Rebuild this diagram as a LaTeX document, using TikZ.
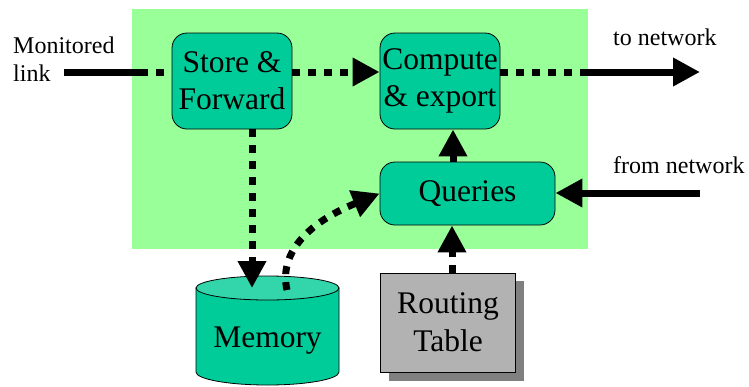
\documentclass[tikz,border=0pt]{standalone}
\usepackage{fontspec}
\setmainfont{Liberation Serif}
\usetikzlibrary{arrows.meta,calc}
\definecolor{bggreen}{RGB}{153,255,153}
\definecolor{boxteal}{RGB}{0,204,153}
\definecolor{topteal}{RGB}{51,214,170}
\definecolor{rtgray}{RGB}{178,178,178}
\definecolor{shgray}{RGB}{128,128,128}
\tikzset{
  procbox/.style={draw=black, line width=0.8pt, fill=boxteal, rounded corners=15pt,
    align=center, inner sep=0pt, font=\fontsize{31.5}{37}\selectfont},
  lbl/.style={inner sep=0pt, font=\fontsize{24}{28}\selectfont, align=left},
  tip/.style={-{Triangle[length=27pt,width=27pt]}},
  solidln/.style={line width=7pt},
  dotln/.style={line width=7pt, dash pattern=on 8pt off 8pt},
}
\begin{document}
\begin{tikzpicture}[x=1pt,y=-1pt]
\useasboundingbox (0,0) rectangle (749,386);
% background
\fill[bggreen] (132,9) rectangle (588,249);
% boxes
\node[procbox, minimum width=120pt, minimum height=96pt] (sf) at (232,81) {Store \&\\Forward};
\node[procbox, minimum width=120pt, minimum height=96pt] (ce) at (440,81) {Compute\\\& export};
\node[procbox, minimum width=175pt, minimum height=63pt] (q) at (467.5,193.5) {Queries};
% memory cylinder
\filldraw[fill=boxteal, draw=black, line width=0.8pt]
  (196,288) -- (196,372) arc[start angle=180, end angle=360, x radius=71.5pt, y radius=13pt]
  -- (339,288) -- cycle;
\filldraw[fill=topteal, draw=black, line width=0.8pt] (267.5,288) ellipse[x radius=71.5pt, y radius=12pt];
\node[inner sep=0pt, anchor=base, font=\fontsize{31.5}{37}\selectfont] (mem) at (267.5,347) {Memory};
\coordinate (memtop) at (252,288);
\coordinate (memout) at (287,290);
% routing table
\fill[shgray] (389,281) rectangle (524,381);
\node[draw=black, line width=0.8pt, fill=rtgray, minimum width=135pt, minimum height=99pt,
  inner sep=0pt, align=center, font=\fontsize{31.5}{38}\selectfont] (rt) at (448,322.5) {Routing\\Table};
% labels
\node[lbl, anchor=west] (ml) at (13,59) {Monitored\\link};
\node[lbl, anchor=base west] (tn) at (613,45) {to network};
\node[lbl, anchor=base west] (fn) at (613,173) {from network};
% coordinates
\coordinate (inA) at (64,72);
\coordinate (inB) at (140,72);
\coordinate (outA) at (586,72);
\coordinate (outB) at (700,72);
\coordinate (fromA) at (700,193);
\coordinate (qx) at (453,0);
\coordinate (sx) at (252,0);
\coordinate (rx) at (452,0);
% connectors
\draw[solidln] (inA) -- (inB);
\draw[dotln] (inB) -- (sf.west |- inB);
\draw[dotln, tip] (sf.east |- inB) -- (ce.west |- inB);
\draw[dotln] (ce.east |- outA) -- (outA);
\draw[solidln, tip] (outA) -- (outB);
\draw[solidln, tip] (fromA) -- (q.east |- fromA);
\draw[solidln, tip] (q.north -| qx) -- (ce.south -| qx);
\draw[dotln, tip] (sf.south -| sx) -- (memtop);
\draw[dotln, tip] (rt.north -| rx) -- (q.south -| rx);
\draw[dotln, tip] (memout) .. controls (279,255) and (305,224) .. (q.west);
\end{tikzpicture}
\end{document}
